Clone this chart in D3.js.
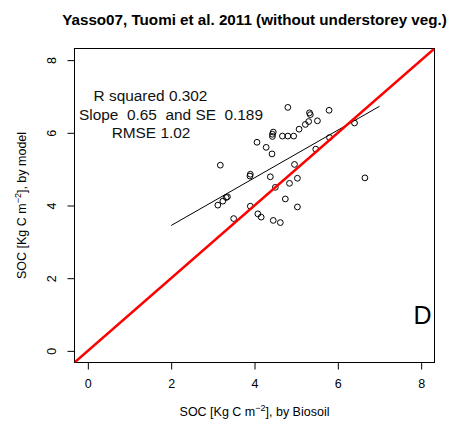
<!DOCTYPE html>
<html>
<head>
<meta charset="utf-8">
<script src="https://cdn.jsdelivr.net/npm/d3@7"></script>
<style>
  html, body { margin: 0; padding: 0; background: #fff; }
  svg { display: block; font-family: "Liberation Sans", Arial, Helvetica, sans-serif; }
</style>
</head>
<body>
<svg id="chart" width="453" height="421"></svg>
<script>
// ---- data ----
const biosoil = [4.80, 5.32, 5.34, 5.79, 5.51, 5.30, 5.22, 5.07, 6.40, 4.45,
                 4.43, 4.43, 4.67, 4.80, 4.94, 5.80, 4.06, 4.28, 4.42, 5.47,
                 4.96, 3.18, 3.90, 3.89, 4.38, 5.03, 6.65, 4.50, 4.84, 3.32,
                 3.35, 3.24, 3.12, 3.90, 4.74, 5.03, 4.08, 4.16, 3.50, 4.45, 4.62];
const model   = [6.70, 6.55, 6.50, 6.62, 6.33, 6.31, 6.23, 6.10, 6.27, 6.02,
                 5.96, 5.90, 5.91, 5.91, 5.91, 5.87, 5.74, 5.60, 5.42, 5.55,
                 5.13, 5.11, 4.86, 4.81, 4.79, 4.75, 4.76, 4.50, 4.61, 4.22,
                 4.24, 4.12, 4.01, 3.98, 4.18, 3.96, 3.77, 3.68, 3.64, 3.59, 3.53];
const fitX = [2, 7];
const fitY = [3.45, 6.73];
const xTicks = [0, 2, 4, 6, 8];
const yTicks = [0, 2, 4, 6, 8];
const statLines = ["R squared 0.302", "Slope  0.65  and SE  0.189", "RMSE 1.02"];
const titleText = "Yasso07, Tuomi et al. 2011 (without understorey veg.)";
const panelLetter = "D";

// ---- layout ----
const W = 453, H = 421;
const m = { left: 74.5, right: 18.5, top: 48.5, bottom: 58.5 };
const pw = W - m.left - m.right, ph = H - m.top - m.bottom;

const svg = d3.select("#chart");
const x = d3.scaleLinear().domain([-0.32, 8.32]).range([m.left, m.left + pw]);
const y = d3.scaleLinear().domain([-0.32, 8.32]).range([m.top + ph, m.top]);

svg.append("defs").append("clipPath").attr("id", "clip")
  .append("rect").attr("x", m.left).attr("y", m.top).attr("width", pw).attr("height", ph);

// title
svg.append("text")
  .attr("x", m.left + pw / 2).attr("y", 25)
  .attr("text-anchor", "middle")
  .attr("font-weight", "bold").attr("font-size", 15.2)
  .attr("fill", "#000")
  .text(titleText);

// axes
const xAxis = svg.append("g")
  .attr("transform", `translate(0,${m.top + ph})`)
  .call(d3.axisBottom(x).tickValues(xTicks).tickSize(7).tickPadding(10).tickFormat(d3.format("d")));
const yAxis = svg.append("g")
  .attr("transform", `translate(${m.left},0)`)
  .call(d3.axisLeft(y).tickValues(yTicks).tickSize(7).tickFormat(d3.format("d")));
[xAxis, yAxis].forEach(g => {
  g.select(".domain").remove();
  g.selectAll("line").attr("stroke", "#000");
  g.selectAll("text").attr("font-size", 12.5).attr("fill", "#000")
    .attr("font-family", "Liberation Sans, Arial, sans-serif");
});
yAxis.selectAll("text")
  .attr("text-anchor", "middle")
  .attr("x", null).attr("dy", null)
  .attr("transform", "translate(-22.5,0) rotate(-90)")
  .attr("y", 0)
  .attr("dominant-baseline", "central");

// box
svg.append("rect")
  .attr("x", m.left).attr("y", m.top).attr("width", pw).attr("height", ph)
  .attr("fill", "none").attr("stroke", "#000").attr("stroke-width", 1);

// axis titles
const xl = svg.append("text")
  .attr("x", m.left + pw / 2).attr("y", 416)
  .attr("text-anchor", "middle").attr("font-size", 12.5).attr("fill", "#000");
xl.append("tspan").text("SOC [Kg C m");
xl.append("tspan").attr("dy", -5).attr("font-size", 9).text("\u22122");
xl.append("tspan").attr("dy", 5).text("], by Biosoil");

const yl = svg.append("text")
  .attr("transform", `translate(26,${m.top + ph / 2}) rotate(-90)`)
  .attr("text-anchor", "middle").attr("font-size", 12.5).attr("fill", "#000");
yl.append("tspan").text("SOC [Kg C m");
yl.append("tspan").attr("dy", -5).attr("font-size", 9).text("\u22122");
yl.append("tspan").attr("dy", 5).text("], by model");

const plot = svg.append("g").attr("clip-path", "url(#clip)");

// points
plot.selectAll("circle.pt")
  .data(biosoil.map((v, i) => [v, model[i]]))
  .join("circle")
  .attr("class", "pt")
  .attr("cx", d => x(d[0])).attr("cy", d => y(d[1]))
  .attr("r", 2.9)
  .attr("fill", "none").attr("stroke", "#000").attr("stroke-width", 1);

// regression line
plot.append("line")
  .attr("x1", x(fitX[0])).attr("y1", y(fitY[0]))
  .attr("x2", x(fitX[1])).attr("y2", y(fitY[1]))
  .attr("stroke", "#000").attr("stroke-width", 1);

// 1:1 line
const dom = x.domain();
plot.append("line")
  .attr("x1", x(dom[0])).attr("y1", y(dom[0]))
  .attr("x2", x(dom[1])).attr("y2", y(dom[1]))
  .attr("stroke", "#ff0000").attr("stroke-width", 2.5);

// stats text
const statX = [150.5, 171, 151];
const statY = [101, 119.5, 138];
statLines.forEach((s, i) => {
  svg.append("text")
    .attr("x", statX[i]).attr("y", statY[i])
    .attr("text-anchor", "middle").attr("font-size", 15.4).attr("fill", "#111")
    .attr("xml:space", "preserve")
    .style("white-space", "pre")
    .text(s);
});

// panel letter
svg.append("text")
  .attr("x", 422.5).attr("y", 323.5)
  .attr("text-anchor", "middle").attr("font-size", 25).attr("fill", "#000")
  .text(panelLetter);
</script>
</body>
</html>
